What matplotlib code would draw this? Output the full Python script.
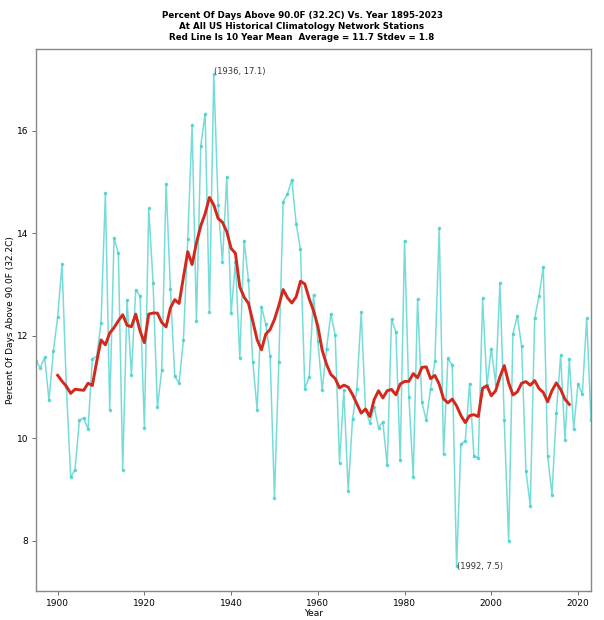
import numpy as np
import pandas as pd
import matplotlib
matplotlib.use("Agg")
import matplotlib.pyplot as plt

# percent of days above 90F, 1895-2023
years = list(range(1895, 2024))
pct_days = [
    11.50, 11.38, 11.58, 10.74, 11.70, 12.37, 13.40, 11.00, 9.24, 9.39,   # 1895-1904
    10.35, 10.40, 10.18, 11.55, 11.60, 12.26, 14.79, 10.56, 13.91, 13.61,  # 1905-1914
    9.39, 12.70, 11.23, 12.90, 12.78, 10.21, 14.49, 13.03, 10.61, 11.33,   # 1915-1924
    14.97, 12.91, 11.21, 11.08, 11.92, 13.90, 16.11, 12.29, 15.71, 16.34,  # 1925-1934
    12.46, 17.12, 14.56, 13.44, 15.10, 12.44, 13.45, 11.56, 13.86, 13.09,  # 1935-1944
    11.49, 10.56, 12.57, 12.23, 11.60, 8.84, 11.49, 14.62, 14.77, 15.05,   # 1945-1954
    14.19, 13.69, 10.97, 11.20, 12.80, 11.90, 10.94, 11.75, 12.43, 12.02,  # 1955-1964
    9.52, 10.94, 8.98, 10.38, 10.97, 12.46, 10.55, 10.30, 10.61, 10.21,    # 1965-1974
    10.32, 9.47, 12.32, 12.08, 9.57, 13.86, 10.81, 9.24, 12.72, 10.71,     # 1975-1984
    10.35, 10.97, 11.51, 14.10, 9.69, 11.56, 11.43, 7.50, 9.88, 9.95,      # 1985-1994
    11.07, 9.65, 9.62, 12.73, 11.04, 11.75, 11.07, 13.03, 10.35, 8.00,     # 1995-2004
    12.04, 12.39, 11.80, 9.36, 8.68, 12.34, 12.77, 13.34, 9.65, 8.90,      # 2005-2014
    10.50, 11.62, 9.97, 11.54, 10.19, 11.06, 10.86, 12.34, 10.35,          # 2015-2023
]

max_label = "(1936, 17.1)"
min_label = "(1992, 7.5)"

s = pd.Series(pct_days, index=years)
# 10 year mean over the complete years (2023 is partial)
mean10 = s.loc[:2022].rolling(10, center=True).mean().dropna()

fig = plt.figure(figsize=(6.04, 6.20), dpi=100)
ax = fig.add_axes([36 / 604, 1 - 591 / 620, 555 / 604, 542 / 620])

ax.plot(s.index, s.values, color="mediumturquoise", lw=1.1, alpha=0.75,
        marker="o", markersize=1.6)
ax.plot(mean10.index, mean10.values, color="#d4281c", lw=2.1)

imax = s.idxmax()
imin = s.idxmin()
ax.annotate(max_label, (imax, s[imax]), fontsize=6, color="#333333")
ax.annotate(min_label, (imin, s[imin]), fontsize=6, color="#333333",
            va="center")

ax.set_xlim(1895, 2023)
ax.set_ylim(7.02, 17.6)
ax.set_xticks([1900, 1920, 1940, 1960, 1980, 2000, 2020])
ax.set_yticks([8, 10, 12, 14, 16])
ax.tick_params(labelsize=6.5, length=3, width=0.6, color="#555555", pad=2.5)
for sp in ax.spines.values():
    sp.set_color("#888888")
    sp.set_linewidth(1.0)

ax.set_xlabel("Year", fontsize=6.5, labelpad=1)
ax.set_ylabel("Percent Of Days Above 90.0F (32.2C)", fontsize=6.5, labelpad=1)

fig.text(0.5, 1 - 11 / 620,
         "Percent Of Days Above 90.0F (32.2C) Vs. Year 1895-2023\n"
         "At All US Historical Climatology Network Stations\n"
         "Red Line Is 10 Year Mean  Average = 11.7 Stdev = 1.8",
         ha="center", va="top", fontsize=6.3, fontweight="bold",
         linespacing=1.3)

fig.savefig("out.png", dpi=100)
